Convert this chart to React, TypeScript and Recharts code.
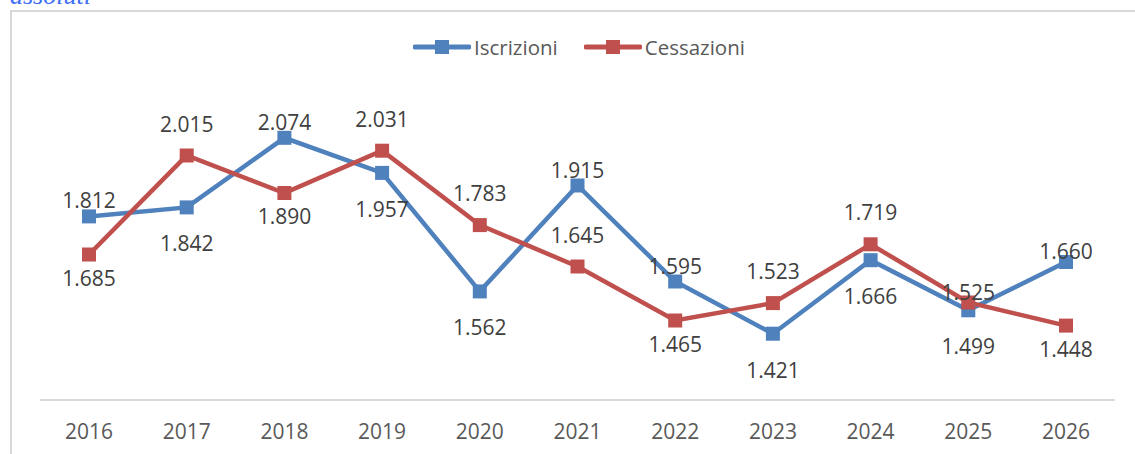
import React from 'react';
import { LineChart, Line, XAxis, YAxis, LabelList } from 'recharts';

const years = ["2016", "2017", "2018", "2019", "2020", "2021", "2022", "2023", "2024", "2025", "2026"];
const iscrizioni = [1812, 1842, 2074, 1957, 1562, 1915, 1595, 1421, 1666, 1499, 1660];
const cessazioni = [1685, 2015, 1890, 2031, 1783, 1645, 1465, 1523, 1719, 1525, 1448];

// label placement per point: 'up' above the marker, 'down' below, 'near' just over it
const iscrizioniLabelPos = ['up', 'down', 'up', 'down', 'down', 'up', 'up', 'down', 'down', 'down', 'near'];
const cessazioniLabelPos = ['down', 'up', 'down', 'up', 'up', 'up', 'down', 'up', 'up', 'near', 'down'];

const data = years.map((y, i) => ({ year: y, iscrizioni: iscrizioni[i], cessazioni: cessazioni[i] }));

const BLUE = '#4F81BD';
const RED = '#C0504D';
const FONT = '"Open Sans", sans-serif';

const fmt = (v: number) => {
    const th = Math.floor(v / 1000);
    const rest = String(v % 1000).padStart(3, '0');
    return th > 0 ? `${th}.${rest}` : String(v);
};

const squareDot = (color: string) => (p: any) => (
    <rect key={`d-${p.index}`} x={p.cx - 7} y={p.cy - 7} width={14} height={14} fill={color} />
);

const makeLabel = (pos: string[], up: number, down: number) => (p: any) => {
    const { x, y, value, index } = p;
    const dy = pos[index] === 'up' ? up : pos[index] === 'near' ? -11 : down;
    return (
        <text key={`l-${index}`} x={x} y={y + dy} textAnchor="middle" dominantBaseline="central"
            fill="#404040" fontSize={21} fontFamily={FONT}>
            {fmt(Number(value))}
        </text>
    );
};

function LegendBox() {
    const item = (color: string, label: string) => (
        <div style={{ display: 'flex', alignItems: 'center', marginRight: 26 }}>
            <svg width={58} height={16}>
                <line x1={2} y1={8} x2={56} y2={8} stroke={color} strokeWidth={5} strokeLinecap="round" />
                <rect x={22} y={1} width={14} height={14} fill={color} />
            </svg>
            <span style={{ marginLeft: 3, fontSize: 20.5, color: '#595959', fontFamily: FONT }}>{label}</span>
        </div>
    );
    return (
        <div style={{ position: 'absolute', left: 413, top: 33, display: 'flex' }}>
            {item(BLUE, 'Iscrizioni')}
            {item(RED, 'Cessazioni')}
        </div>
    );
}

export default function App() {
    return (
        <div style={{ position: 'absolute', left: 0, top: 0, width: 1135, height: 454, background: '#fff', overflow: 'hidden' }}>
            <div style={{ position: 'absolute', left: 10, top: -17, fontSize: 26, lineHeight: '26px', fontStyle: 'italic', fontFamily: '"Liberation Serif", serif', color: '#3d6ef5' }}>
                assoluti
            </div>
            <div style={{ position: 'absolute', left: 10, top: 10, width: 1140, height: 460, borderLeft: '2px solid #d9d9d9', borderTop: '2px solid #d9d9d9' }} />
            <div style={{ position: 'absolute', left: 10, top: 10 }}>
                <LineChart width={1125} height={444} data={data} margin={{ top: 90, right: 20, bottom: 0, left: 30 }}>
                    <XAxis
                        dataKey="year"
                        padding={{ left: 49, right: 49 }}
                        axisLine={{ stroke: '#d9d9d9', strokeWidth: 2 }}
                        tickLine={false}
                        height={54}
                        tickMargin={18}
                        tick={{ fill: '#595959', fontSize: 21, fontFamily: FONT }}
                    />
                    <YAxis hide domain={[1200, 2200]} />
                    <Line
                        dataKey="iscrizioni"
                        stroke={BLUE}
                        strokeWidth={4.5}
                        dot={squareDot(BLUE)}
                        activeDot={false}
                        isAnimationActive={false}
                    >
                        <LabelList dataKey="iscrizioni" content={makeLabel(iscrizioniLabelPos, -16, 36)} />
                    </Line>
                    <Line
                        dataKey="cessazioni"
                        stroke={RED}
                        strokeWidth={4.5}
                        dot={squareDot(RED)}
                        activeDot={false}
                        isAnimationActive={false}
                    >
                        <LabelList dataKey="cessazioni" content={makeLabel(cessazioniLabelPos, -32, 23)} />
                    </Line>
                </LineChart>
            </div>
            <LegendBox />
        </div>
    );
}
